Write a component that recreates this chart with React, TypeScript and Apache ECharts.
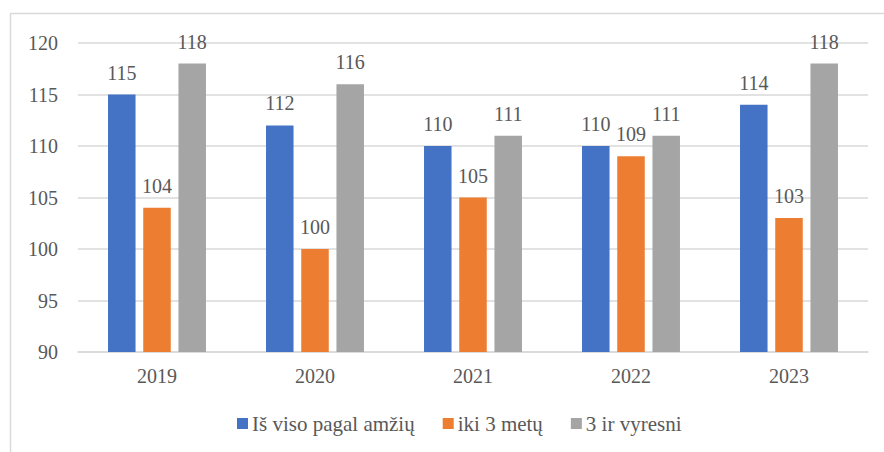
import React, { useEffect, useRef } from "react";
import * as echarts from "echarts";

const years = ["2019", "2020", "2021", "2022", "2023"];
const seriesNames = ["Iš viso pagal amžių", "iki 3 metų", "3 ir vyresni"];
const total = [115, 112, 110, 110, 114];
const under3 = [104, 100, 105, 109, 103];
const over3 = [118, 116, 111, 111, 118];
const colors = ["#4472C4", "#ED7D31", "#A5A5A5"];

const FONT = "Liberation Serif";
const TEXT = "#595959";

export default function App() {
  const ref = useRef<HTMLDivElement>(null);
  useEffect(() => {
    const chart = echarts.init(ref.current!, undefined, { renderer: "svg" });
    const data = [total, under3, over3];
    chart.setOption({
      animation: false,
      textStyle: { fontFamily: FONT },
      graphic: [
        {
          type: "rect",
          shape: { x: 10.5, y: 13.5, width: 900, height: 500 },
          style: { fill: "none", stroke: "#d9d9d9", lineWidth: 1.5 },
          silent: true,
        },
      ],
      grid: { left: 78, right: 16, top: 43, bottom: 100, containLabel: false },
      legend: {
        top: 408,
        left: 232,
        itemWidth: 11,
        itemHeight: 11,
        itemGap: 28,
        icon: "rect",
        textStyle: { fontFamily: FONT, fontSize: 21, color: TEXT, padding: [0, 0, 0, -1] },
        data: seriesNames,
      },
      xAxis: {
        type: "category",
        data: years,
        axisLine: { lineStyle: { color: "#d9d9d9", width: 1.5 } },
        axisTick: { show: false },
        axisLabel: { fontFamily: FONT, fontSize: 20, color: TEXT, margin: 14 },
      },
      yAxis: {
        type: "value",
        min: 90,
        max: 120,
        interval: 5,
        axisLine: { show: false },
        axisTick: { show: false },
        splitLine: { lineStyle: { color: "#d9d9d9", width: 1.5 } },
        axisLabel: { fontFamily: FONT, fontSize: 20, color: TEXT, margin: 20 },
      },
      series: seriesNames.map((name, i) => ({
        name,
        type: "bar",
        data: data[i],
        barGap: "28%",
        barCategoryGap: "38%",
        itemStyle: { color: colors[i] },
        label: {
          show: true,
          position: "top",
          distance: 12,
          fontFamily: FONT,
          fontSize: 20,
          color: TEXT,
        },
      })),
    });
    return () => chart.dispose();
  }, []);
  return (
    <div
      ref={ref}
      style={{ position: "absolute", left: 0, top: 0, width: 884, height: 452, background: "#fff" }}
    />
  );
}
